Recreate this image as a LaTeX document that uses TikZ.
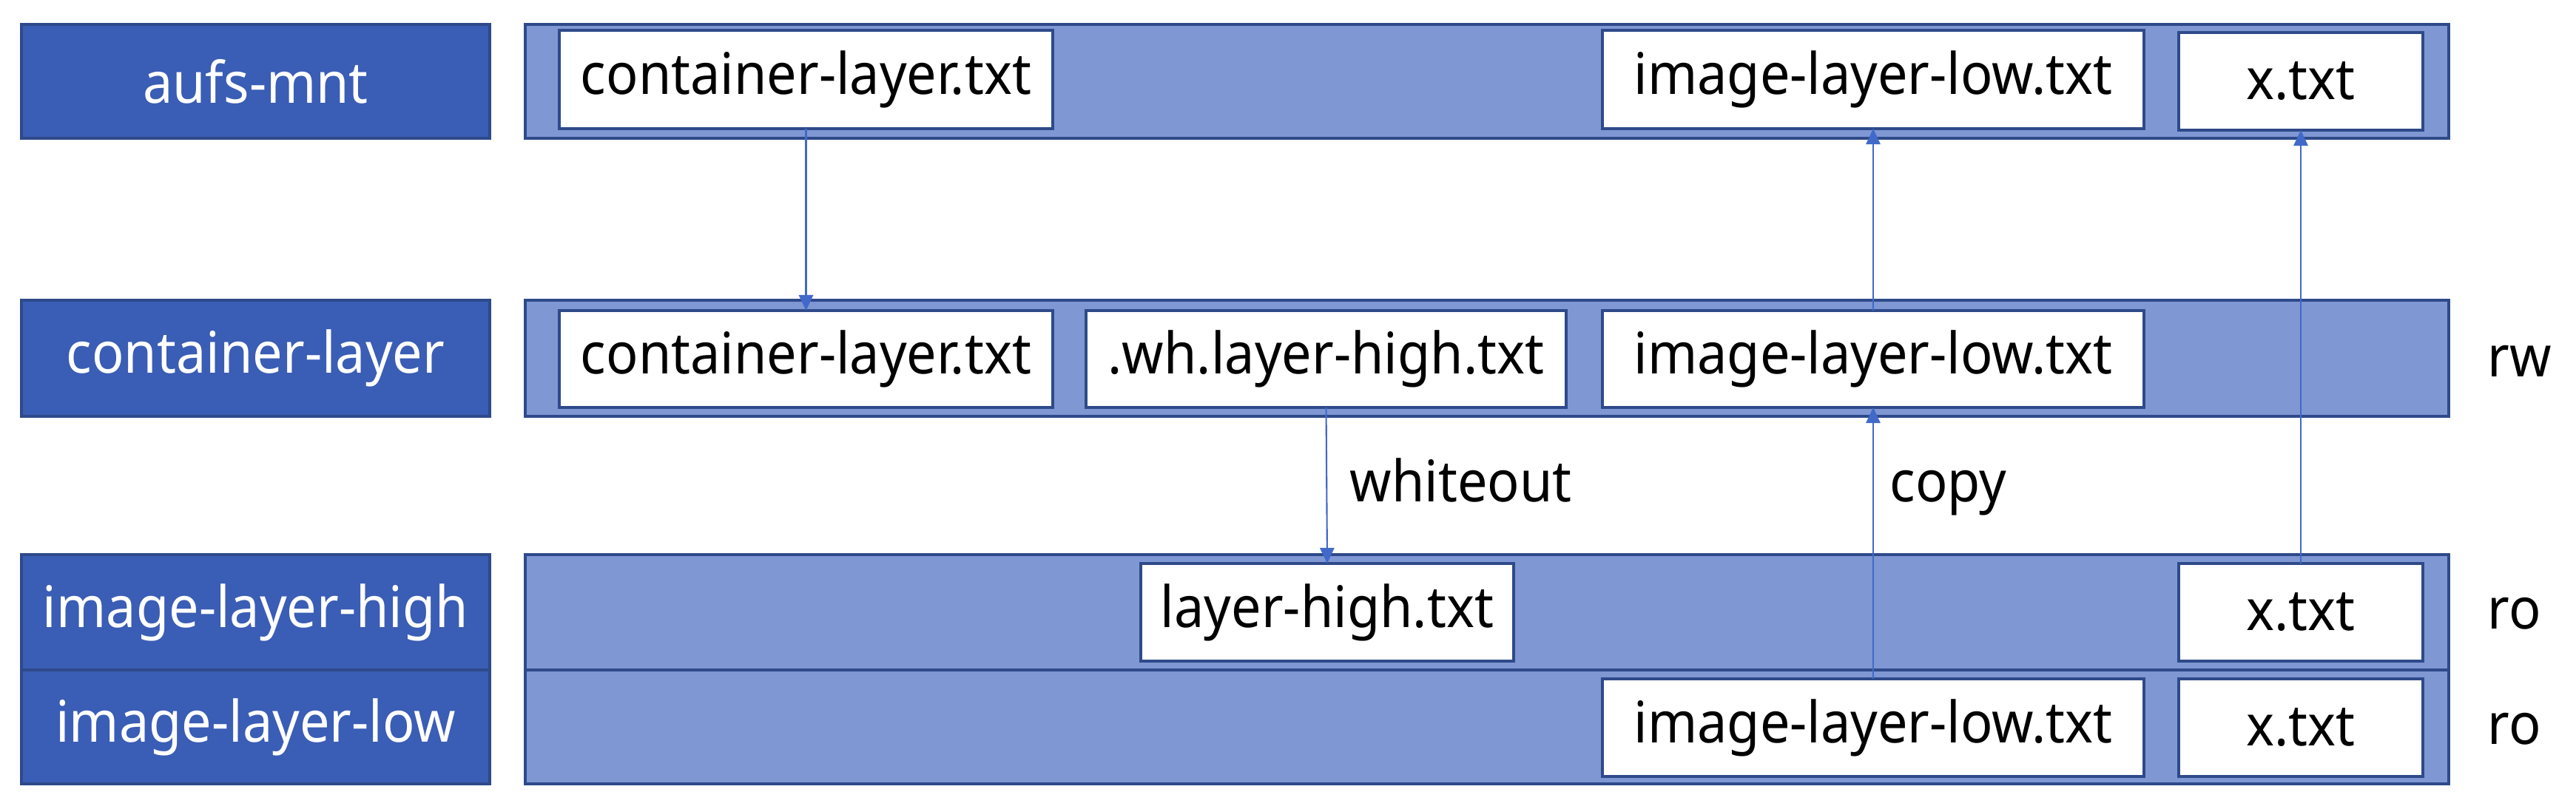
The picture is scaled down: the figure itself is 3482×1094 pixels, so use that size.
\documentclass[tikz,border=0pt]{standalone}
\usepackage{fontspec}
\setmainfont{Noto Sans}[FakeStretch=0.93]
\usetikzlibrary{fit,arrows.meta}
\definecolor{labfill}{HTML}{3A5DB5}
\definecolor{rowfill}{HTML}{7F97D3}
\definecolor{edgec}{HTML}{2E4A8A}
\definecolor{arrc}{HTML}{4169C9}
\tikzset{
  base/.style={inner sep=0pt, outer sep=0pt, line width=1.1pt, draw=edgec},
  labbox/.style={base, fill=labfill},
  rowbox/.style={base, fill=rowfill},
  filebox/.style={base, fill=white},
  plain/.style={inner sep=0pt, font=\fontsize{22}{26}\selectfont, text=black},
  wtext/.style={plain, text=white},
  conn/.style={draw=arrc, line width=0.6pt, -{Triangle[length=6pt,width=5.5pt]}}
}
\begin{document}
\begin{tikzpicture}[x=0.01cm,y=-0.01cm]
\useasboundingbox (0,0) rectangle (3482,1094);
% labels
\node[labbox, fit={(29,33) (662,187)}] (l1) {};
\node[labbox, fit={(29,406) (662,563)}] (l2) {};
\node[labbox, fit={(29,750) (662,906)}] (l3) {};
\node[labbox, fit={(29,906) (662,1060)}] (l4) {};
\node[wtext] (t1) at (l1.center) {aufs-mnt};
\node[wtext] (t2) at (l2.center) {container-layer};
\node[wtext] (t3) at (l3.center) {image-layer-high};
\node[wtext] (t4) at (l4.center) {image-layer-low};
% rows
\node[rowbox, fit={(710,33) (3310,187)}] (r1) {};
\node[rowbox, fit={(710,406) (3310,563)}] (r2) {};
\node[rowbox, fit={(710,750) (3310,906)}] (r3) {};
\node[rowbox, fit={(710,906) (3310,1060)}] (r4) {};
% files row 1
\node[filebox, fit={(756,41) (1423,174)}] (cl1) {};
\node[filebox, fit={(2166,41) (2898,174)}] (il1) {};
\node[filebox, fit={(2945,44) (3275,176)}] (x1) {};
% row 2
\node[filebox, fit={(756,420) (1423,551)}] (cl2) {};
\node[filebox, fit={(1468,420) (2117,551)}] (wh2) {};
\node[filebox, fit={(2166,420) (2898,551)}] (il2) {};
% row 3
\node[filebox, fit={(1542,762) (2046,894)}] (lh3) {};
\node[filebox, fit={(2945,762) (3275,894)}] (x3) {};
% row 4
\node[filebox, fit={(2166,918) (2898,1050)}] (il4) {};
\node[filebox, fit={(2945,918) (3275,1050)}] (x4) {};
% file texts
\node[plain] (tcl1) at (cl1.center) {container-layer.txt};
\node[plain] (til1) at (il1.center) {image-layer-low.txt};
\node[plain] (tx1) at (x1.center) {x.txt};
\node[plain] (tcl2) at (cl2.center) {container-layer.txt};
\node[plain] (twh2) at (wh2.center) {.wh.layer-high.txt};
\node[plain] (til2) at (il2.center) {image-layer-low.txt};
\node[plain] (tlh3) at (lh3.center) {layer-high.txt};
\node[plain] (tx3) at (x3.center) {x.txt};
\node[plain] (til4) at (il4.center) {image-layer-low.txt};
\node[plain] (tx4) at (x4.center) {x.txt};
% side texts
\node[plain, anchor=west] (rw) at (3362,488) {rw};
\node[plain, anchor=west] (ro3) at (3362,830) {ro};
\node[plain, anchor=west] (ro4) at (3362,986) {ro};
\node[plain, anchor=base west] (wo) at (1824,678) {whiteout};
\node[plain, anchor=base west] (cp) at (2554,678) {copy};
% connectors
\draw[conn] (cl1.south) -- (cl2.north);
\draw[conn] (wh2.south) -- (lh3.north);
\draw[conn] (il4.north) -- (il2.south);
\draw[conn] (il2.north) -- (il1.south);
\draw[conn] (x3.north) -- (x1.south);
\end{tikzpicture}
\end{document}
